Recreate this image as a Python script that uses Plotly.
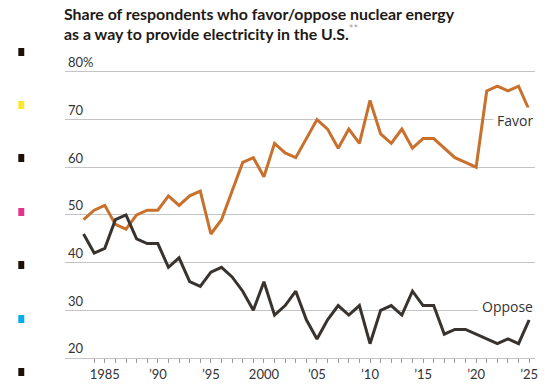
import plotly.graph_objects as go

years = list(range(1983, 2026))
favor = [49, 51, 52, 48, 47, 50, 51, 51, 54, 52, 54, 55, 46, 49, 55, 61, 62, 58, 65, 63,
         62, 66, 70, 68, 64, 68, 65, 74, 67, 65, 68, 64, 66, 66, 64, 62, 61, 60, 76, 77,
         76, 77, 72]
oppose = [46, 42, 43, 49, 50, 45, 44, 44, 39, 41, 36, 35, 38, 39, 37, 34, 30, 36, 29, 31,
          34, 28, 24, 28, 31, 29, 31, 23, 30, 31, 29, 34, 31, 31, 25, 26, 26, 25, 24, 23,
          24, 23, 28]
ytick_vals = [20, 30, 40, 50, 60, 70, 80]
ytick_text = ["20", "30", "40", "50", "60", "70", "80%"]
xtick_vals = [1985, 1990, 1995, 2000, 2005, 2010, 2015, 2020, 2025]
xtick_text = ["1985", "\u201990", "\u201995", "2000", "\u201905", "\u201910", "\u201915", "\u201920", "\u201925"]

FONT = "Lato"
LFONT = "Open Sans"
W, H = 545, 389
ML, MR, MT, MB = 65, 7, 48, 31

pw, ph = W - ML - MR, H - MT - MB
def px(x):
    return (x - ML) / pw
def py(y):
    return (H - MB - y) / ph

fig = go.Figure()
fig.add_trace(go.Scatter(x=years, y=favor, mode="lines", name="Favor",
                         line=dict(color="#c8702c", width=3), hoverinfo="x+y"))
fig.add_trace(go.Scatter(x=years, y=oppose, mode="lines", name="Oppose",
                         line=dict(color="#38332e", width=3), hoverinfo="x+y"))

fig.add_annotation(x=px(540), y=69.7, xref="paper", yref="y", text="Favor", showarrow=False,
                   xanchor="right", yanchor="middle", bgcolor="white", borderpad=3,
                   font=dict(family=LFONT, size=14, color="#333333"))
fig.add_annotation(x=px(540), y=30.7, xref="paper", yref="y", text="Oppose", showarrow=False,
                   xanchor="right", yanchor="middle", bgcolor="white", borderpad=3,
                   font=dict(family=LFONT, size=14, color="#333333"))

# title (two lines)
fig.add_annotation(
    xref="paper", yref="paper", x=px(62), y=py(13), xanchor="left", yanchor="middle",
    align="left", showarrow=False,
    text="<b>Share of respondents who favor/oppose nuclear energy</b>",
    font=dict(family=FONT, size=15.9, color="#1e1a16"),
)
fig.add_annotation(
    xref="paper", yref="paper", x=px(62), y=py(32), xanchor="left", yanchor="middle",
    align="left", showarrow=False,
    text="<b>as a way to provide electricity in the U.S.</b><sup><span style='color:#a0a0a0'>**</span></sup>",
    font=dict(family=FONT, size=15.9, color="#1e1a16"),
)

# printer registration marks on the left edge (decoration)
marks = [(52, "#1c1008"), (105, "#fde62b"), (158, "#1c1008"), (212, "#e2338c"),
         (265, "#1c1008"), (319, "#00aeef"), (372, "#1c1008")]
for cy, col in marks:
    fig.add_shape(type="rect", xref="paper", yref="paper",
                  x0=px(18), x1=px(24), y0=py(cy + 4), y1=py(cy - 4),
                  fillcolor=col, line=dict(width=0), layer="above")

fig.update_layout(
    width=W, height=H,
    margin=dict(l=ML, r=MR, t=MT, b=MB),
    paper_bgcolor="white", plot_bgcolor="white",
    showlegend=False,
    font=dict(family=FONT, color="#333333"),
)
fig.update_xaxes(
    range=[1981.25, 2025.55],
    tickvals=xtick_vals, ticktext=xtick_text,
    ticks="outside", ticklen=4, tickcolor="#9a9a9a", tickwidth=1,
    minor=dict(tickvals=years, ticks="outside", ticklen=4, tickcolor="#9a9a9a", tickwidth=1),
    showgrid=False, zeroline=False,
    showline=True, linecolor="#c4c4c4", linewidth=1,
    tickfont=dict(family=FONT, size=13, color="#333333"),
)
fig.update_yaxes(
    range=[20, 85],
    tickvals=ytick_vals, ticktext=ytick_text,
    ticklabelposition="inside top", ticks="",
    showgrid=True, gridcolor="#c4c4c4", gridwidth=1,
    zeroline=False, showline=False,
    tickfont=dict(family=FONT, size=13, color="#333333"),
)

fig.write_html("out.html", config={"displayModeBar": False},
               post_script="document.body.style.margin='0px';")
